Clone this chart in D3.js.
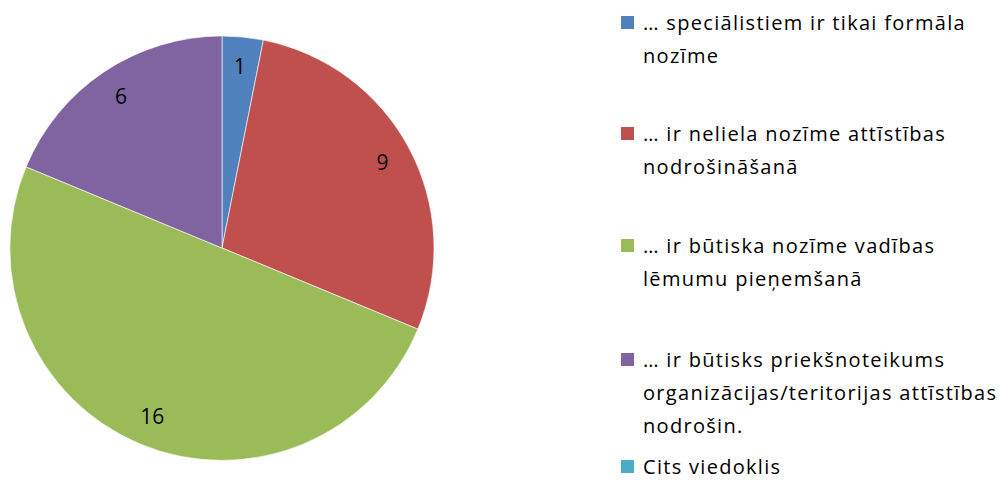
<!DOCTYPE html>
<html>
<head>
<meta charset="utf-8">
<script src="https://cdn.jsdelivr.net/npm/d3@7"></script>
<style>
  body { margin: 0; background: #fff; }
  text { font-family: "Open Sans", "Noto Sans", sans-serif; fill: #000; }
</style>
</head>
<body>
<svg id="pie" width="1005" height="482"></svg>
<script>
// dati
const categories = [
    "… speciālistiem ir tikai formāla nozīme",
    "… ir neliela nozīme attīstības nodrošināšanā",
    "… ir būtiska nozīme vadības lēmumu pieņemšanā",
    "… ir būtisks priekšnoteikums organizācijas/teritorijas attīstības nodrošin.",
    "Cits viedoklis"
];
const values = [1, 9, 16, 6, 0];
const legendLines = [
    ["… speciālistiem ir tikai formāla", "nozīme"],
    ["… ir neliela nozīme attīstības", "nodrošināšanā"],
    ["… ir būtiska nozīme vadības", "lēmumu pieņemšanā"],
    ["… ir būtisks priekšnoteikums", "organizācijas/teritorijas attīstības", "nodrošin."],
    ["Cits viedoklis"]
];
const colors = ["#4F81BD", "#C0504D", "#9BBB59", "#8064A2", "#4BACC6"];

const svg = d3.select("#pie");
const cx = 222, cy = 248, radius = 212;

const colorScale = d3.scaleOrdinal().domain(categories).range(colors);

const pie = d3.pie().sort(null).value(d => d.value);
const data = categories.map((c, i) => ({ name: c, value: values[i] }));
const arcs = pie(data);

const arc = d3.arc().innerRadius(0).outerRadius(radius);
const labelArc = d3.arc().innerRadius(182).outerRadius(182);

const g = svg.append("g").attr("transform", `translate(${cx},${cy})`);

g.selectAll("path")
    .data(arcs.filter(d => d.value > 0))
    .enter()
    .append("path")
    .attr("d", arc)
    .attr("fill", d => colorScale(d.data.name))
    .attr("stroke", "#fff")
    .attr("stroke-opacity", 0.6)
    .attr("stroke-width", 1);

// vērtību etiķetes
g.selectAll(".lbl")
    .data(arcs.filter(d => d.value > 0))
    .enter()
    .append("text")
    .attr("class", "lbl")
    .attr("transform", d => `translate(${labelArc.centroid(d)})`)
    .attr("text-anchor", "middle")
    .attr("dy", "0.35em")
    .style("font-size", "21px")
    .text(d => d.value);

// leģenda
const legendTop = [30, 141, 253, 367, 474];
const lineH = 33;
const legend = svg.append("g");

categories.forEach((c, i) => {
    const row = legend.append("g");
    row.append("rect")
        .attr("x", 621)
        .attr("y", legendTop[i] - 14)
        .attr("width", 13)
        .attr("height", 13)
        .attr("fill", colorScale(c));
    legendLines[i].forEach((ln, j) => {
        row.append("text")
            .attr("x", 643)
            .attr("y", legendTop[i] + j * lineH)
            .style("font-size", "20px")
            .style("letter-spacing", "1.3px")
            .text(ln);
    });
});
</script>
</body>
</html>
